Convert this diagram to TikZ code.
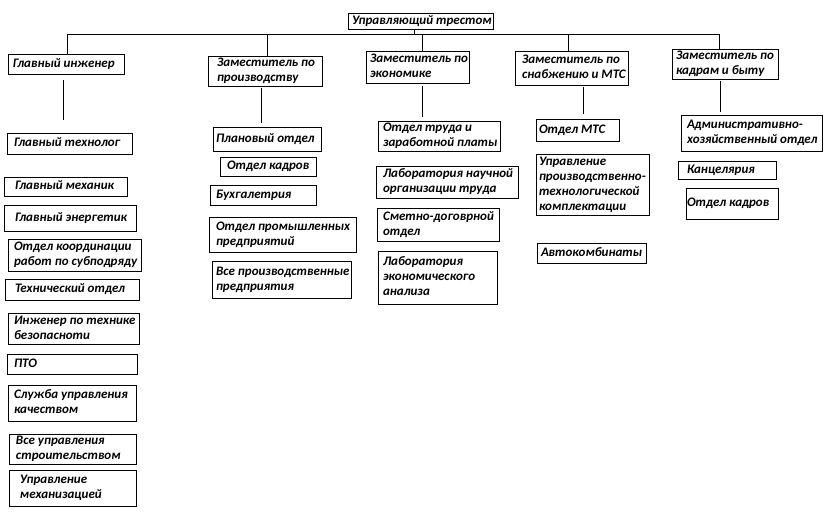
\documentclass[tikz,border=0pt]{standalone}
\usepackage{fontspec}
\setmainfont{Carlito}
\begin{document}
\begin{tikzpicture}[x=1pt,y=-1pt,
  box/.style={draw=black,line width=0.9pt,inner sep=0pt,outer sep=0pt,anchor=north west,
    font=\fontsize{13}{15}\selectfont\bfseries\itshape},
  link/.style={draw=black,line width=0.9pt}]
\useasboundingbox (0,0) rectangle (832,512);
\newcommand\bx[7]{%
  \pgfmathsetmacro\bw{#4-#2}\pgfmathsetmacro\bh{#5-#3}%
  \node[box,minimum width=\bw pt,minimum height=\bh pt] (#1) at (#2,#3)
    {\makebox[\bw pt][l]{\hspace{#6pt}\begin{tabular}{@{}l@{}}#7\end{tabular}}};}
% top level
\bx{top}{348}{13}{493}{29}{4}{Управляющий трестом}
\bx{gi}{8}{54}{124}{74}{5}{Главный инженер}
\bx{zp}{208}{56}{322}{85}{9}{Заместитель по\\производству}
\bx{ze}{366}{51}{469}{83}{4}{Заместитель по\\экономике}
\bx{zs}{515}{51}{628}{85}{7}{Заместитель по\\снабжению и МТС}
\bx{zk}{672}{49}{778}{78}{4}{Заместитель по\\кадрам и быту}
% column 1
\bx{a1}{7}{133}{132}{154}{7}{Главный технолог}
\bx{a2}{4}{177}{127}{196}{11}{Главный механик}
\bx{a3}{4}{205}{136}{231}{11}{Главный энергетик}
\bx{a4}{8}{239}{141}{271}{6}{Отдел координации\\работ по субподряду}
\bx{a5}{5}{279}{139}{300}{10}{Технический отдел}
\bx{a6}{8}{313}{139}{344}{6}{Инженер по технике\\безопасноти}
\bx{a7}{7}{354}{137}{374}{7}{ПТО}
\bx{a8}{8}{385}{136}{421}{6}{Служба управления\\качеством}
\bx{a9}{9}{434}{136}{463}{7}{Все управления\\строительством}
\bx{a10}{9}{470}{136}{506}{11}{Управление\\механизацией}
% column 2
\bx{b1}{213}{127}{321}{151}{3}{Плановый отдел}
\bx{b2}{220}{157}{316}{176}{7}{Отдел кадров}
\bx{b3}{210}{185}{316}{205}{6}{Бухгалетрия}
\bx{b4}{209}{217}{356}{252}{7}{Отдел промышленных\\предприятий}
\bx{b5}{212}{261}{351}{298}{4}{Все производственные\\предприятия}
% column 3
\bx{c1}{378}{121}{500}{150}{5}{Отдел труда и\\заработной платы}
\bx{c2}{376}{166}{518}{198}{7}{Лаборатория научной\\организации труда}
\bx{c3}{377}{208}{499}{241}{6}{Сметно-договрной\\отдел}
\bx{c4}{378}{251}{497}{304}{5}{Лаборатория\\экономического\\анализа}
% column 4
\bx{d1}{536}{119}{619}{141}{3}{Отдел МТС}
\bx{d2}{536}{154}{649}{215}{3}{Управление\\производственно-\\технологической\\комплектации}
\bx{d3}{537}{243}{646}{263}{4}{Автокомбинаты}
% column 5
\bx{e1}{681}{115}{822}{151}{6}{Административно-\\хозяйственный отдел}
\bx{e2}{678}{161}{776}{179}{9}{Канцелярия}
\bx{e3}{686}{188}{778}{219}{1}{Отдел кадров}
% bus
\coordinate (j0) at (414,34);
\coordinate (j1) at (67,34);
\coordinate (j2) at (267,34);
\coordinate (j3) at (422,34);
\coordinate (j4) at (568,34);
\coordinate (j5) at (719,34);
\draw[link] (top.south -| j0) -- (j0);
\draw[link] (j1) -- (j5);
\draw[link] (j1) -- (j1 |- gi.north);
\draw[link] (j2) -- (j2 |- zp.north);
\draw[link] (j3) -- (j3 |- ze.north);
\draw[link] (j4) -- (j4 |- zs.north);
\draw[link] (j5) -- (j5 |- zk.north);
% stubs below the deputies
\coordinate (s1a) at (63,80);  \coordinate (s1b) at (63,120);
\coordinate (s2a) at (261,88); \coordinate (s2b) at (261,123);
\coordinate (s3a) at (422,86); \coordinate (s3b) at (422,117);
\coordinate (s4a) at (583,87); \coordinate (s4b) at (583,114);
\coordinate (s5a) at (720,81); \coordinate (s5b) at (720,112);
\draw[link] (s1a) -- (s1b);
\draw[link] (s2a) -- (s2b);
\draw[link] (s3a) -- (s3b);
\draw[link] (s4a) -- (s4b);
\draw[link] (s5a) -- (s5b);
\end{tikzpicture}
\end{document}
